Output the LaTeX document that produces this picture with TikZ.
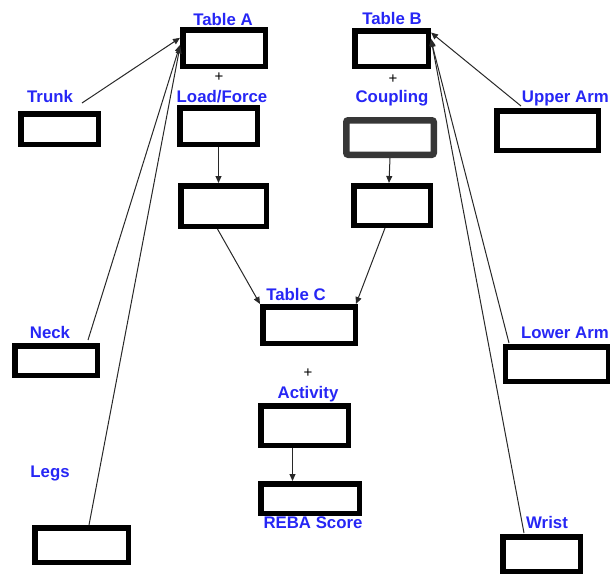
\documentclass[tikz,border=0pt]{standalone}
\usepackage{fontspec}
\setmainfont{Liberation Sans}
\usetikzlibrary{arrows.meta}
\definecolor{lblue}{RGB}{38,38,245}
\definecolor{conncol}{RGB}{40,40,40}
\definecolor{darkbox}{RGB}{55,55,55}
\tikzset{
  box/.style={draw=black, line width=5.5pt, inner sep=0pt, fill=white},
  lbl/.style={text=lblue, font=\fontsize{16.8}{19}\selectfont\bfseries, inner sep=0pt, anchor=base},
  plus/.style={text=black, font=\fontsize{15}{16}\selectfont, inner sep=0pt},
  conn/.style={draw=conncol, line width=1pt, -{Triangle[length=7pt,width=6pt]}}
}
\begin{document}
\begin{tikzpicture}[x=1pt,y=-1pt]
\useasboundingbox (0,0) rectangle (610,573);
% boxes: outer size minus line width
\node[box, minimum width=82.5pt, minimum height=36.5pt] (tableA) at (224,48) {};
\node[box, minimum width=77.5pt, minimum height=36.5pt] (load) at (218.5,126) {};
\node[box, minimum width=85.5pt, minimum height=40.5pt] (loadb) at (223.5,206) {};
\node[box, minimum width=77.5pt, minimum height=30.5pt] (trunk) at (59.5,129) {};
\node[box, minimum width=73.5pt, minimum height=35.5pt] (tableB) at (391.5,48.5) {};
\node[box, draw=darkbox, line width=6.5pt, rounded corners=2pt, minimum width=87.5pt, minimum height=34.5pt] (coup) at (390,137.5) {};
\node[box, minimum width=76.5pt, minimum height=39.5pt] (coupb) at (392,205.5) {};
\node[box, minimum width=101.5pt, minimum height=39.5pt] (uarm) at (547.5,130.5) {};
\node[box, minimum width=92.5pt, minimum height=36.5pt] (tableC) at (309,325) {};
\node[box, minimum width=87.5pt, minimum height=39.5pt] (act) at (304.5,425.5) {};
\node[box, minimum width=98.5pt, minimum height=29.5pt] (reba) at (310,498.5) {};
\node[box, minimum width=82.5pt, minimum height=29.5pt] (neck) at (56,360.5) {};
\node[box, minimum width=93.5pt, minimum height=34.5pt] (legs) at (81.5,545) {};
\node[box, minimum width=103.5pt, minimum height=34.5pt] (larm) at (557,364) {};
\node[box, minimum width=77.5pt, minimum height=34.5pt] (wrist) at (541.5,554) {};
% labels
\node[lbl] (tA) at (223,25) {Table A};
\node[lbl] (tTr) at (50,102) {Trunk};
\node[lbl] (tLF) at (222,102) {Load/Force};
\node[plus] (p1) at (219,77) {+};
\node[lbl] (tB) at (392,24) {Table B};
\node[plus] (p2) at (393,79) {+};
\node[lbl] (tCo) at (392,102) {Coupling};
\node[lbl, anchor=base east] (tUA) at (609,102) {Upper Arm};
\node[lbl] (tC) at (296,300) {Table C};
\node[plus] (p3) at (308,373) {+};
\node[lbl] (tAc) at (308,398) {Activity};
\node[lbl] (tR) at (313,528) {REBA Score};
\node[lbl] (tN) at (50,338) {Neck};
\node[lbl] (tL) at (50,477) {Legs};
\node[lbl, anchor=base east] (tLA) at (609,338) {Lower Arm};
\node[lbl] (tW) at (547,528) {Wrist};
% free ends
\coordinate (sTr) at (82,103);
\coordinate (sN) at (88,340);
\coordinate (sL) at (89,525);
\coordinate (sUA) at (521,106);
\coordinate (sLA) at (509,343);
\coordinate (sW) at (524,533);
% connectors
\draw[conn] (sTr) -- (tableA.167);
\draw[conn] (sN) -- (tableA.176);
\draw[conn] (sL) -- (tableA.178);
\draw[conn] (sUA) -- (tableB.22);
\draw[conn] (sLA) -- (tableB.12);
\draw[conn] (sW) -- (tableB.14);
\draw[conn] (load.south) -- (load.south |- loadb.north);
\draw[conn] (coup.south) -- ([xshift=-3pt]coupb.north);
\draw[conn] ([xshift=-6pt]loadb.south) -- (tableC.north west);
\draw[conn] ([xshift=-7pt]coupb.south) -- ([xshift=-2pt]tableC.north east);
\draw[conn] ([xshift=-12pt]act.south) -- ([xshift=-12pt]act.south |- reba.north);
\end{tikzpicture}
\end{document}
